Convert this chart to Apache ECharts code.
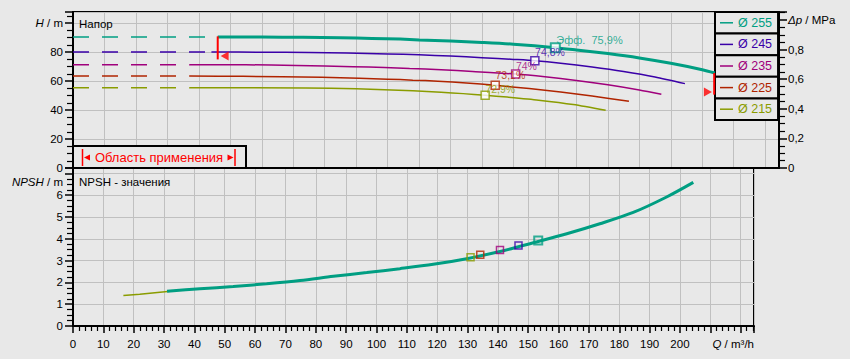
<!DOCTYPE html>
<html><head><meta charset="utf-8">
<script src="https://cdn.jsdelivr.net/npm/echarts@6.0.0/dist/echarts.min.js"></script>
<style>html,body{margin:0;padding:0;background:#e8e8e8}#c{width:850px;height:359px}</style>
</head><body><div id="c"></div>
<script>
// ---- data ----
const diameters = ['Ø 255', 'Ø 245', 'Ø 235', 'Ø 225', 'Ø 215'];
const colors = ['#009e82', '#3a00a8', '#a0007c', '#b02400', '#8a9c00'];

const q255 = [46, 60, 73, 85, 95, 104, 110, 120, 130, 140, 153.3, 160, 170, 180, 190, 200, 204];
const h255 = [90.3, 90.3, 90.1, 89.8, 89.4, 88.9, 88.3, 87.6, 86.6, 85.4, 83.0, 81.4, 78.9, 75.9, 72.2, 67.8, 65.5];
const q245 = [44, 60, 75, 87, 100, 110, 120, 130, 140, 146.8, 155, 165, 175, 185, 194.5];
const h245 = [80.0, 79.9, 79.7, 79.3, 78.7, 78.1, 77.2, 76.1, 74.9, 74.0, 72.3, 69.7, 66.6, 62.8, 58.2];
const q235 = [37, 55, 71, 89, 99, 107, 117, 127, 140.7, 150, 160, 170, 180, 187];
const h235 = [71.3, 71.2, 70.7, 69.9, 69.3, 68.6, 67.8, 66.6, 64.8, 62.9, 60.4, 57.4, 53.8, 50.8];
const q225 = [37, 54, 79, 91, 100, 108, 116, 125, 134.2, 145, 155, 165, 176.7];
const h225 = [63.4, 63.2, 62.6, 61.9, 61.3, 60.6, 59.9, 58.7, 57.0, 54.8, 52.4, 49.6, 46.0];
const q215 = [37, 74, 90, 99, 108, 117, 124, 131, 138, 148, 159, 169.3];
const h215 = [55.4, 55.2, 54.6, 54.0, 53.3, 52.2, 51.3, 50.2, 48.9, 46.8, 43.8, 39.8];
const curveQ = [q255, q245, q235, q225, q215];
const curveH = [h255, h245, h235, h225, h215];

// dashed part below the minimum flow
const startQ = [46, 44, 37, 37, 37];
const shutoffH = [90.3, 80.0, 71.3, 63.4, 55.4];

// best efficiency points
const effQ = [153.3, 146.8, 140.7, 134.2, 131];
const effH = [83.0, 74.0, 64.8, 57.0, 50.2];
const effLabels = ['Эфф.  75,9%', '74,8%', '74%', '73,1%', '72,9%'];
const npshMarkV = [3.92, 3.69, 3.49, 3.27, 3.15];

// NPSH curve
const npshQ = [31, 41.8, 52.8, 63.8, 74.8, 85.8, 96.8, 107.7, 118.7, 129.7, 140.7, 151.7, 162.7, 173.6, 184.6, 195.6, 204.4];
const npshV = [1.59, 1.71, 1.81, 1.94, 2.09, 2.28, 2.45, 2.63, 2.83, 3.09, 3.42, 3.82, 4.23, 4.69, 5.21, 5.92, 6.59];
const npshLowQ = [16.6, 22, 27, 32];
const npshLowV = [1.40, 1.46, 1.53, 1.59];

// application range markers
const rangeQ = [46, 203.8];
const rangeTop = [90.8, 65.5];
const rangeBottom = [74.9, 50.6];
const arrowQ = [48.2, 201.8];
const arrowH = [77.2, 52.4];

// axis ranges / ticks
const qMax = 224.4, hMax = 107.6, dpMax = 1.0545, npshMax = 7.25;

const FONT = 'Liberation Sans, Arial, sans-serif';
const BG = '#e8e8e8';
const GRIDC = '#c0c0c0';

const near = (a, b) => Math.abs(a - b) < 1e-6;
// label offsets (relative to the marker box)
const labelPos = [[6.5, -2], [5, -3.5], [5, -3.5], [5, -5.5], [5, -1.5]];

const series = [];
curveQ.forEach((qs, i) => {
  series.push({
    name: diameters[i] + '-min', type: 'line', xAxisIndex: 0, yAxisIndex: 0,
    data: [[0, shutoffH[i]], [startQ[i], shutoffH[i]]], showSymbol: false, silent: true,
    lineStyle: { color: colors[i], width: 1.5, type: [16, 13] }, z: 2
  });
  series.push({
    name: diameters[i], type: 'line', xAxisIndex: 0, yAxisIndex: 0,
    data: qs.map((q, k) => [q, curveH[i][k]]), showSymbol: false, smooth: 0.25,
    itemStyle: { color: colors[i] },
    lineStyle: { color: colors[i], width: i === 0 ? 3 : 1.5 }, z: i === 0 ? 4 : 3
  });
});
for (let i = 4; i >= 0; i--) {
  series.push({
    name: 'eff-' + i, type: 'scatter', xAxisIndex: 0, yAxisIndex: 0,
    data: [[effQ[i], effH[i]]], symbol: 'rect', symbolSize: i === 0 ? 9 : 8,
    itemStyle: { color: '#ffffff', borderColor: colors[i], borderWidth: i === 0 ? 2 : 1.5 },
    label: {
      show: true, formatter: effLabels[i], position: labelPos[i],
      align: 'left', verticalAlign: 'middle', color: colors[i], fontSize: i === 0 ? 11 : 10.5, fontFamily: FONT
    }, z: 6
  });
}
// application range
rangeQ.forEach((q, i) => {
  series.push({
    name: 'range-' + i, type: 'line', xAxisIndex: 0, yAxisIndex: 0,
    data: [[q, rangeTop[i]], [q, rangeBottom[i]]], showSymbol: false,
    lineStyle: { color: '#ff0000', width: 2 }, z: 7
  });
  series.push({
    name: 'arrow-' + i, type: 'scatter', xAxisIndex: 0, yAxisIndex: 0,
    data: [[arrowQ[i], arrowH[i]]], symbol: 'triangle', symbolSize: [9, 8],
    symbolRotate: i === 0 ? 90 : -90, itemStyle: { color: '#ff0000' }, z: 7
  });
});
// NPSH
series.push({
  name: 'NPSH-low', type: 'line', xAxisIndex: 1, yAxisIndex: 2,
  data: npshLowQ.map((q, k) => [q, npshLowV[k]]), showSymbol: false,
  lineStyle: { color: colors[4], width: 1.5 }, z: 3
});
series.push({
  name: 'NPSH', type: 'line', xAxisIndex: 1, yAxisIndex: 2,
  data: npshQ.map((q, k) => [q, npshV[k]]), showSymbol: false, smooth: 0.3,
  lineStyle: { color: colors[0], width: 3 }, z: 4
});
for (let i = 4; i >= 0; i--) {
  series.push({
    name: 'npsh-eff-' + i, type: 'scatter', xAxisIndex: 1, yAxisIndex: 2,
    data: [[effQ[i], npshMarkV[i]]], symbol: 'rect', symbolSize: i === 0 ? 8 : 7,
    itemStyle: { color: 'rgba(0,0,0,0)', borderColor: colors[i], borderWidth: i === 0 ? 2 : 1.5 }, z: 6
  });
}

const tickStyle = { show: true, inside: false, length: 8, lineStyle: { color: '#000', width: 1.5 } };
const minorStyle = (n) => ({ show: true, splitNumber: n, length: 6, lineStyle: { color: '#000', width: 1.2 } });
const labelBase = { color: '#000', fontSize: 11.5, fontFamily: FONT, rich: { i: { fontStyle: 'italic', fontSize: 11.5, fontFamily: FONT, color: '#000' } } };

const legends = diameters.map((d, i) => ({
  data: [d], orient: 'vertical', left: 715, top: 12 + i * 21.6,
  padding: [3, 6, 3, 5], itemWidth: 13, itemHeight: 1.5, icon: 'rect',
  borderColor: '#000', borderWidth: 2, backgroundColor: BG, borderRadius: 0,
  selectedMode: false, itemGap: 0,
  textStyle: { color: colors[i], fontSize: 12.5, fontFamily: FONT, lineHeight: 15.6 }
}));

const option = {
  backgroundColor: BG,
  animation: false,
  textStyle: { fontFamily: FONT },
  grid: [
    { left: 73, top: 12, width: 706, height: 156, show: true, borderColor: '#000', borderWidth: 2, backgroundColor: 'transparent', outerBoundsMode: 'none', containLabel: false },
    { left: 73, top: 168, width: 681, height: 158, show: true, borderColor: '#000', borderWidth: 2, backgroundColor: 'transparent', outerBoundsMode: 'none', containLabel: false }
  ],
  legend: legends,
  xAxis: [
    { type: 'value', gridIndex: 0, min: 0, max: qMax, interval: 10,
      axisLine: { show: true, onZero: false, lineStyle: { color: '#000', width: 2 } },
      axisTick: { show: false }, axisLabel: { show: false },
      splitLine: { show: true, lineStyle: { color: GRIDC, width: 1 } } },
    { type: 'value', gridIndex: 1, min: 0, max: qMax, interval: 10,
      axisLine: { show: true, onZero: false, lineStyle: { color: '#000', width: 2 } },
      axisTick: Object.assign({}, tickStyle, { length: 7 }), minorTick: Object.assign(minorStyle(5), { length: 5 }),
      axisLabel: Object.assign({}, labelBase, { margin: 12, showMaxLabel: false,
        formatter: v => (near(v, Math.round(v)) && Math.round(v) % 10 === 0 && v <= 200) ? String(Math.round(v)) : '' }),
      splitLine: { show: true, lineStyle: { color: GRIDC, width: 1 } } }
  ],
  yAxis: [
    { type: 'value', gridIndex: 0, position: 'left', min: 0, max: hMax, interval: 20,
      axisLine: { show: true, onZero: false, lineStyle: { color: '#000', width: 2 } },
      axisTick: tickStyle, minorTick: minorStyle(4),
      axisLabel: Object.assign({}, labelBase, { margin: 10,
        formatter: v => near(v, 100) ? '{i|H} / m' : ((near(v, Math.round(v)) && Math.round(v) % 20 === 0 && v < 100) ? String(Math.round(v)) : '') }),
      splitLine: { show: true, lineStyle: { color: GRIDC, width: 1 } } },
    { type: 'value', gridIndex: 0, position: 'right', min: 0, max: dpMax, interval: 0.2,
      axisLine: { show: true, onZero: false, lineStyle: { color: '#000', width: 2 } },
      axisTick: tickStyle, minorTick: minorStyle(4),
      axisLabel: Object.assign({}, labelBase, { margin: 9,
        formatter: v => {
          if (near(v, 1)) return '{i|Δp} / MPa';
          const r = Math.round(v * 10) / 10;
          if (!near(v, r) || v > 1) return '';
          return r === 0 ? '0' : r.toFixed(1).replace('.', ',');
        } }),
      splitLine: { show: false } },
    { type: 'value', gridIndex: 1, position: 'left', min: 0, max: npshMax, interval: 1,
      axisLine: { show: true, onZero: false, lineStyle: { color: '#000', width: 2 } },
      axisTick: tickStyle, minorTick: minorStyle(4),
      axisLabel: Object.assign({}, labelBase, { margin: 10,
        formatter: v => (near(v, Math.round(v)) && v <= 6) ? String(Math.round(v)) : '' }),
      splitLine: { show: true, lineStyle: { color: GRIDC, width: 1 } } }
  ],
  graphic: [
    { type: 'text', x: 79, y: 24, z: 20, style: { text: 'Напор', fill: '#000', fontSize: 11.5, fontFamily: FONT, verticalAlign: 'middle', textVerticalAlign: 'middle' } },
    { type: 'text', x: 79, y: 181.5, z: 20, style: { text: 'NPSH - значения', fill: '#000', fontSize: 11.5, fontFamily: FONT, verticalAlign: 'middle', textVerticalAlign: 'middle' } },
    { type: 'text', x: 63, y: 181.5, z: 20, style: { text: '{i|NPSH} / m', rich: { i: { fontStyle: 'italic', fontSize: 11.5, fontFamily: FONT, fill: '#000' } }, fill: '#000', fontSize: 11.5, fontFamily: FONT, align: 'right', textAlign: 'right', verticalAlign: 'middle', textVerticalAlign: 'middle' } },
    { type: 'text', x: 754, y: 344, z: 20, style: { text: '{i|Q} / m³/h', rich: { i: { fontStyle: 'italic', fontSize: 11.5, fontFamily: FONT, fill: '#000' } }, fill: '#000', fontSize: 11.5, fontFamily: FONT, align: 'right', textAlign: 'right', verticalAlign: 'middle', textVerticalAlign: 'middle' } },
    { type: 'rect', z: 20, shape: { x: 73, y: 146, width: 173, height: 22 }, style: { fill: BG, stroke: '#000', lineWidth: 2 } },
    { type: 'text', x: 159, y: 157.3, z: 21, style: { text: 'Область применения', fill: '#ff0000', fontSize: 13, fontFamily: FONT, align: 'center', textAlign: 'center', verticalAlign: 'middle', textVerticalAlign: 'middle' } },
    { type: 'line', z: 21, shape: { x1: 82.5, y1: 149, x2: 82.5, y2: 166 }, style: { stroke: '#ff0000', lineWidth: 1.5 } },
    { type: 'polygon', z: 21, shape: { points: [[84, 157.5], [90, 154.5], [90, 160.5]] }, style: { fill: '#ff0000' } },
    { type: 'line', z: 21, shape: { x1: 235, y1: 149, x2: 235, y2: 166 }, style: { stroke: '#ff0000', lineWidth: 1.5 } },
    { type: 'polygon', z: 21, shape: { points: [[233.5, 157.5], [227.5, 154.5], [227.5, 160.5]] }, style: { fill: '#ff0000' } }
  ],
  series: series
};

const chart = echarts.init(document.getElementById('c'), null, { renderer: 'svg' });
chart.setOption(option);
</script>
</body></html>
